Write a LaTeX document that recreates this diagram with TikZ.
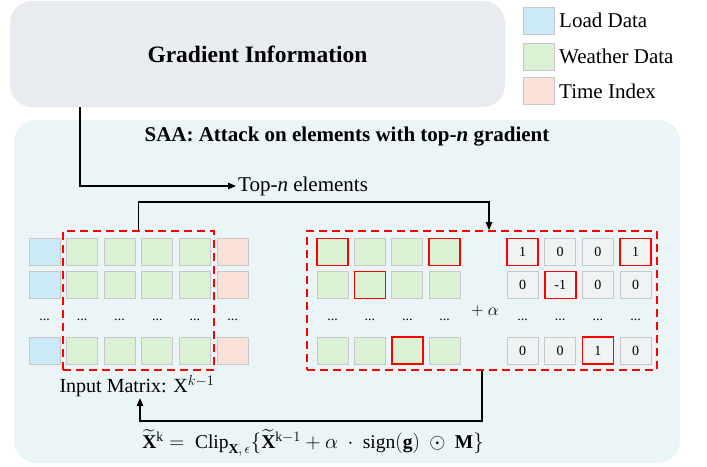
\documentclass[tikz,border=0pt]{standalone}
\usepackage{amsmath}
\usepackage{fontspec}
\setmainfont{Liberation Serif}
\usetikzlibrary{arrows.meta}
\definecolor{gradbg}{HTML}{E8EBF0}
\definecolor{panelbg}{HTML}{EBF4F6}
\definecolor{loadblue}{HTML}{CCE9F7}
\definecolor{weathergreen}{HTML}{DAF1D3}
\definecolor{timepink}{HTML}{FBE0D7}
\definecolor{signgray}{HTML}{EFF3F4}
\definecolor{cellrim}{HTML}{C8C8C8}
\begin{document}
\begin{tikzpicture}[
  x=1pt,y=-1pt,
  cell/.style={draw=cellrim,line width=0.9pt,minimum width=31pt,minimum height=27pt,inner sep=0pt},
  load/.style={cell,fill=loadblue},
  weather/.style={cell,fill=weathergreen},
  timeidx/.style={cell,fill=timepink},
  sgn/.style={cell,fill=signgray,font=\fontsize{14}{14}\selectfont},
  hit/.style={draw=red,line width=1.8pt},
  dots/.style={font=\fontsize{14}{14}\selectfont,inner sep=0pt},
  zone/.style={draw=red,line width=1.8pt,dash pattern=on 8pt off 5pt,inner sep=0pt},
  link/.style={-{Triangle[length=8pt,width=6.5pt]},line width=1.4pt},
  txt/.style={font=\fontsize{21}{25}\selectfont}
]
\useasboundingbox (0,0) rectangle (707,466);
\node[fill=gradbg,rounded corners=22pt,minimum width=495pt,minimum height=106pt] (grad) at (257.5,54) {};
\node[font=\fontsize{23.5}{28}\selectfont\bfseries] (gradtxt) at (grad) {Gradient Information};
\node[fill=panelbg,rounded corners=22pt,minimum width=666pt,minimum height=343pt] (panel) at (347,291.5) {};
\node[txt,font=\fontsize{21}{25}\selectfont\bfseries] (title) at (347,137) {SAA: Attack on elements with top-\textit{n} gradient};

\node[load] (lgload) at (538.5,20.5) {};
\node[weather] (lgweather) at (538.5,56.5) {};
\node[timeidx] (lgtime) at (538.5,91) {};
\node[txt,anchor=west,inner sep=0pt] at (559,20.5) {Load Data};
\node[txt,anchor=west,inner sep=0pt] at (559,56.5) {Weather Data};
\node[txt,anchor=west,inner sep=0pt] at (559,91) {Time Index};

\foreach \r/\y in {1/252,2/285,3/350.5}{
  \node[load] (in-\r-0) at (44.5,\y) {};
  \foreach \c in {1,...,4}
    \node[weather] (in-\r-\c) at ({44.5+37.6*\c},\y) {};
  \node[timeidx] (in-\r-5) at (232.5,\y) {};
}
\foreach \c in {0,...,5}
  \node[dots] (indots-\c) at ({44.5+37.6*\c},320) {...};

\foreach \r/\y/\vals in {1/252/{1,0,0,1},2/285/{0,-1,0,0},3/350.5/{0,0,1,0}}{
  \foreach \v [count=\c] in \vals {
    \ifnum\v=0 \def\mk{}\else\def\mk{hit}\fi
    \node[weather,\mk] (adv-\r-\c) at ({295.1+37.4*\c},\y) {};
    \node[sgn,\mk] (sg-\r-\c) at ({484.8+37.7*\c},\y) {\v};
  }
}
\foreach \c in {1,...,4}{
  \node[dots] (advdots-\c) at ({295.1+37.4*\c},320) {...};
  \node[dots] (sgdots-\c) at ({484.8+37.7*\c},320) {...};
}
\node[txt,font=\fontsize{17}{20}\selectfont] (plus) at (485,311) {$+\ \alpha$};

\node[zone,minimum width=151pt,minimum height=139pt] (inzone) at (138.5,300.5) {};
\node[zone,minimum width=350pt,minimum height=139pt] (satzone) at (482,300.5) {};

\node[txt,font=\fontsize{20}{24}\selectfont,inner sep=1pt] (inlabel) at (137,386) {Input Matrix: X$^{k-1}$};
\node[txt,anchor=west,inner sep=2pt] (topn) at (236,186) {Top-\textit{n} elements};
\node[txt,font=\fontsize{19.5}{24}\selectfont,inner sep=0pt] (update) at (313,443)
  {$\widetilde{\mathbf{X}}^{\mathrm{k}} = \ \mathrm{Clip}_{\mathbf{X},\,\epsilon}\{\widetilde{\mathbf{X}}^{\mathrm{k}-1} + \alpha\ \cdot\ \mathrm{sign}(\mathbf{g})\ \odot\ \mathbf{M}\}$};

\coordinate (gtap) at (80,107);
\draw[link] (gtap) |- (topn.west);
\draw[link] (inzone.north) -- ++(0,-28) -| ([xshift=7pt]satzone.north);
\draw[link] (satzone.south) -- ++(0,50) -| ([xshift=3pt]inlabel.south);
\end{tikzpicture}
\end{document}
